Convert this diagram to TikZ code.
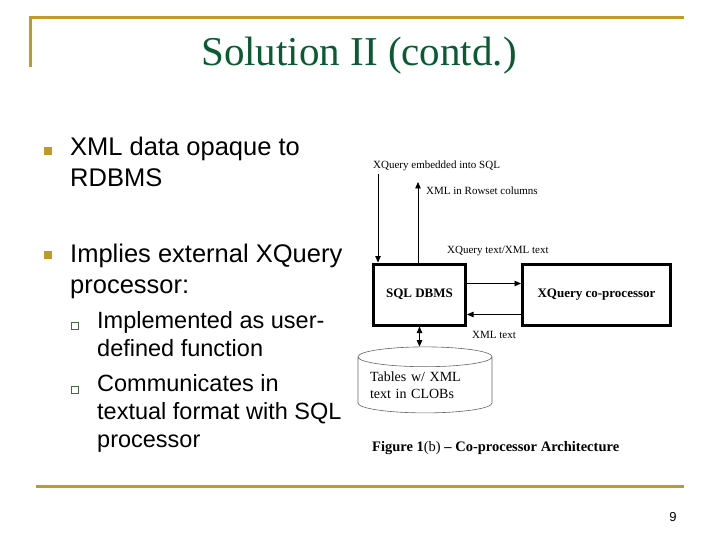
\documentclass[tikz,border=0pt]{standalone}
\usepackage{fontspec}
\setmainfont{Liberation Serif}
\newfontfamily\slidefont{Liberation Sans}
\usetikzlibrary{arrows.meta,shapes.geometric,positioning}
\definecolor{rulegold}{RGB}{193,155,38}
\definecolor{titlegreen}{RGB}{10,90,50}
\definecolor{subgreen}{RGB}{70,105,70}
\tikzset{
	goldrule/.style={draw=rulegold, line width=3pt},
	bulletA/.style={fill=rulegold, inner sep=0pt, minimum size=8pt},
	bulletB/.style={draw=subgreen, line width=0.8pt, inner sep=0pt, minimum size=6.5pt},
	itemA/.style={anchor=base west, inner sep=0pt, align=left,
		font={\slidefont\fontsize{25.5}{31}\selectfont}},
	itemB/.style={anchor=base west, inner sep=0pt, align=left,
		font={\slidefont\fontsize{23.5}{28}\selectfont}},
	figbox/.style={draw, line width=3pt, inner sep=0pt,
		font={\fontsize{13}{15}\selectfont\bfseries}},
	figlabel/.style={anchor=base west, inner sep=0pt, font={\fontsize{11}{13}\selectfont}},
	>={Triangle[length=6.5pt,width=5.5pt]},
}
\begin{document}
\begin{tikzpicture}[x=1pt, y=-1pt]
\useasboundingbox (0,0) rectangle (720,540);
% rules and title
\draw [goldrule] (30,67) -- (30,18) -- (684,18);
\draw [goldrule] (36,486) -- (684,486);
\node [anchor=base, inner sep=0pt, text=titlegreen,
	font={\fontsize{41}{45}\selectfont}] (title) at (359,66) {Solution II (contd.)};
\node [anchor=base, inner sep=0pt, font={\slidefont\fontsize{13}{15}\selectfont}]
	(pageno) at (673,521) {9};
% bullets (nodes sit on the baseline of their last line)
\node [bulletA] (b1) at (48,151) {};
\node [itemA] (t1) at (70,187) {XML data opaque to\\RDBMS};
\node [bulletA] (b2) at (48,255) {};
\node [itemA] (t2) at (70,293) {Implies external XQuery\\processor:};
\node [bulletB] (b21) at (75,326) {};
\node [itemB] (t21) at (97,356) {Implemented as user-\\defined function};
\node [bulletB] (b22) at (75,390) {};
\node [itemB] (t22) at (97,447) {Communicates in\\textual format with SQL\\processor};
% figure
\node [figbox, minimum width=92pt, minimum height=61pt] (sqldbms) at (419.5,294.5) {SQL DBMS};
\node [figbox, minimum width=148pt, minimum height=61pt] (xqproc) at (596.5,294.5) {XQuery co-processor};
\node [cylinder, shape border rotate=90, draw=black!60, line width=0.6pt, aspect=0.18,
	minimum width=134pt, minimum height=66pt, inner sep=0pt, align=left, text width=110pt,
	font={\fontsize{14}{17}\selectfont}] (tables) at (425,385) {Tables w/ XML\\text in CLOBs};
\coordinate (qin) at (378,174);
\coordinate (xout) at (418,182);
\node [figlabel] (lqin) at (373,169) {XQuery embedded into SQL};
\node [figlabel] (lxout) at (426,195) {XML in Rowset columns};
\node [figlabel] (lqtext) at (447,253) {XQuery text/XML text};
\node [figlabel] (lxtext) at (472,338) {XML text};
\draw [->, line width=0.8pt] (qin) -- (qin |- sqldbms.north);
\draw [->, line width=0.8pt] (xout |- sqldbms.north) -- (xout);
\draw [->, line width=0.8pt] ([yshift=11pt]sqldbms.east) -- ([yshift=11pt]xqproc.west);
\draw [->, line width=0.8pt] ([yshift=-20pt]xqproc.west) -- ([yshift=-20pt]sqldbms.east);
\draw [<->, line width=0.8pt] (sqldbms.south) -- (sqldbms.south |- tables.north);
\node [anchor=base west, inner sep=0pt, font={\fontsize{14.5}{17}\selectfont\bfseries}]
	(caption) at (372,451) {Figure 1\textmd{(b)} -- Co-processor Architecture};
\end{tikzpicture}
\end{document}
